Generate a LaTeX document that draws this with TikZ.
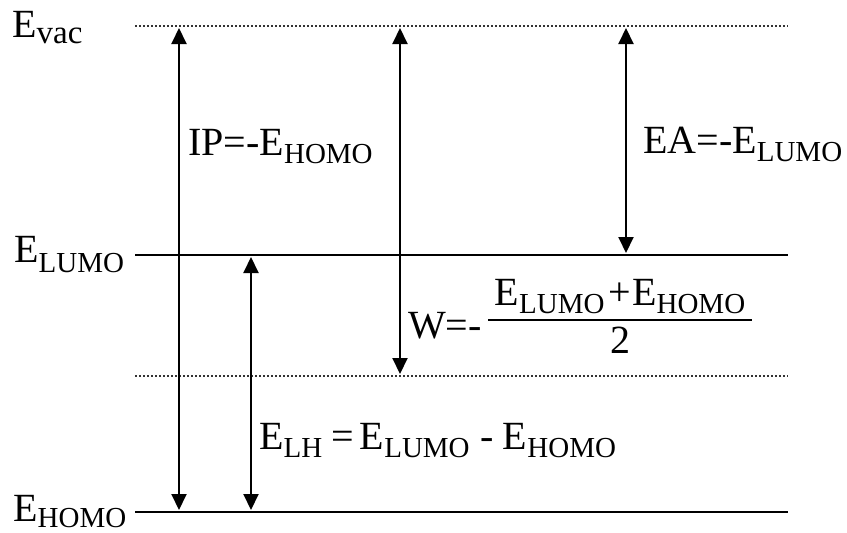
\documentclass[tikz,border=0pt]{standalone}
\usepackage{fontspec}
\setmainfont{Liberation Serif}
\usetikzlibrary{arrows.meta}
\newcommand{\lsub}[3]{\raisebox{-#1}{\fontsize{#2}{#2}\selectfont #3}}
\begin{document}
\begin{tikzpicture}[x=1pt,y=-1pt,
  lvl/.style={line width=2.6pt},
  dots/.style={line width=2pt, dash pattern=on 2pt off 2pt, black!80},
  arr/.style={line width=2pt, {Triangle[width=15pt,length=16pt]}-{Triangle[width=15pt,length=16pt]}},
  lbl/.style={inner sep=0pt, anchor=base west, font=\fontsize{40}{40}\selectfont}]
\useasboundingbox (0,0) rectangle (847,533);

% level lines
\coordinate (vacL) at (135,26);  \coordinate (vacR) at (788,26);
\coordinate (lumoL) at (135,255); \coordinate (lumoR) at (788,255);
\coordinate (midL) at (135,376);  \coordinate (midR) at (788,376);
\coordinate (homoL) at (135,512); \coordinate (homoR) at (788,512);
\draw[dots] (vacL) -- (vacR);
\draw[lvl] (lumoL) -- (lumoR);
\draw[dots] (midL) -- (midR);
\draw[lvl] (homoL) -- (homoR);

% arrows
\coordinate (ipT) at (179,28);  \coordinate (ipB) at (179,510);
\coordinate (lhT) at (251,257); \coordinate (lhB) at (251,510);
\coordinate (wT) at (400,28);   \coordinate (wB) at (400,374);
\coordinate (eaT) at (626,28);  \coordinate (eaB) at (626,253);
\draw[arr] (ipT) -- (ipB);
\draw[arr] (lhT) -- (lhB);
\draw[arr] (wT) -- (wB);
\draw[arr] (eaT) -- (eaB);

% level labels
\node[lbl] (evac) at (12,37) {E\lsub{6pt}{33}{vac}};
\node[lbl] (elumo) at (14,262) {E\lsub{10pt}{29}{LUMO}};
\node[lbl] (ehomo) at (13,521) {E\lsub{6pt}{29}{HOMO}};

% quantity labels
\node[lbl] (ip) at (188,155) {IP=-E\lsub{8pt}{29}{HOMO}};
\node[lbl] (ea) at (643,153) {EA=-E\lsub{8pt}{29}{LUMO}};
\node[lbl] (w) at (408,338) {W=-};
\node[lbl, anchor=base] (num) at (620,305) {E\lsub{8pt}{29}{LUMO}\hspace{4pt}+\hspace{1pt}E\lsub{8pt}{29}{HOMO}};
\node[lbl, anchor=base] (den) at (620,353) {2};
\coordinate (barL) at (488,320); \coordinate (barR) at (752,320);
\draw[line width=2.5pt] (barL) -- (barR);
\node[lbl] (elh) at (259,449) {E\lsub{8pt}{29}{LH}\hspace{9pt}=\hspace{6pt}E\lsub{8pt}{29}{LUMO}\hspace{11pt}-\hspace{9pt}E\lsub{8pt}{29}{HOMO}};
\end{tikzpicture}
\end{document}
